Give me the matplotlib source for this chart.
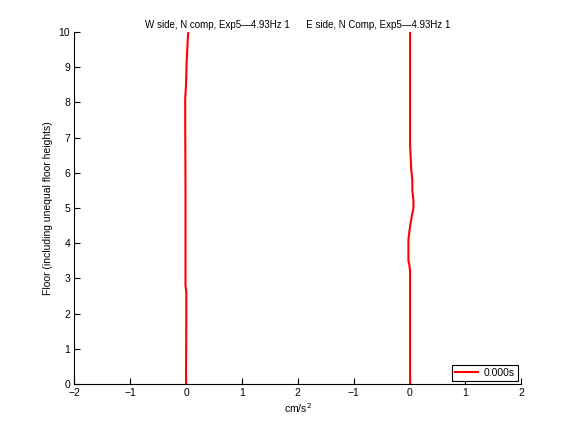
import matplotlib
matplotlib.use("Agg")
import matplotlib.pyplot as plt

# profile data (acceleration offsets in cm/s^2 at given floor levels)
west_floor = [0, 0.3, 1.9, 2.6, 2.8, 5.6, 7.4, 8.1, 8.5, 9.1, 9.77, 10]
west_acc = [0.0, 0.0, 0.005, 0.005, -0.01, -0.01, -0.015, -0.015, 0.0, 0.01, 0.03, 0.04]

east_floor = [0, 3.2, 3.4, 3.5, 4.1, 4.37, 4.57, 4.85, 5.0, 5.2, 5.5, 5.8, 6.1, 6.8, 10]
east_acc = [0.01, 0.01, -0.005, -0.02, -0.02, 0.0, 0.02, 0.05, 0.07, 0.07, 0.05, 0.05, 0.03, 0.01, 0.01]

east_shift = 4  # right profile drawn around x = 4
xtick_pos = [-2, -1, 0, 1, 2, 3, 4, 5, 6]
xtick_lab = ['\u22122', '\u22121', '0', '1', '2', '\u22121', '0', '1', '2']

plt.rcParams['font.family'] = ['Liberation Sans', 'DejaVu Sans']
plt.rcParams['font.size'] = 7.5

fig = plt.figure(figsize=(5.76, 4.32), dpi=100)
ax = fig.add_axes([0.129, 0.111, 0.776, 0.815])

ax.plot(west_acc, west_floor, color='red', lw=1.5, label='0.000s')
ax.plot([a + east_shift for a in east_acc], east_floor, color='red', lw=1.5)

ax.set_xlim(-2, 6)
ax.set_ylim(0, 10)
ax.set_xticks(xtick_pos)
ax.set_xticklabels(xtick_lab)
ax.set_yticks(range(0, 11))
ax.spines['top'].set_visible(False)
ax.spines['right'].set_visible(False)
ax.tick_params(direction='in', length=4, width=0.8, pad=3)

ax.set_xlabel('cm/s$^2$', labelpad=2)
ax.set_ylabel('Floor (including unequal floor heights)', labelpad=4)
ax.set_title('W side, N comp, Exp5\u20144.93Hz 1      E side, N Comp, Exp5\u20144.93Hz 1',
             fontsize=7, pad=3)

leg = ax.legend(loc='lower right', fancybox=False, framealpha=1,
                edgecolor='black', handlelength=2.2, borderpad=0.3,
                handletextpad=0.6, borderaxespad=0.3)
leg.get_frame().set_linewidth(0.8)

fig.savefig('out.png', dpi=100)
